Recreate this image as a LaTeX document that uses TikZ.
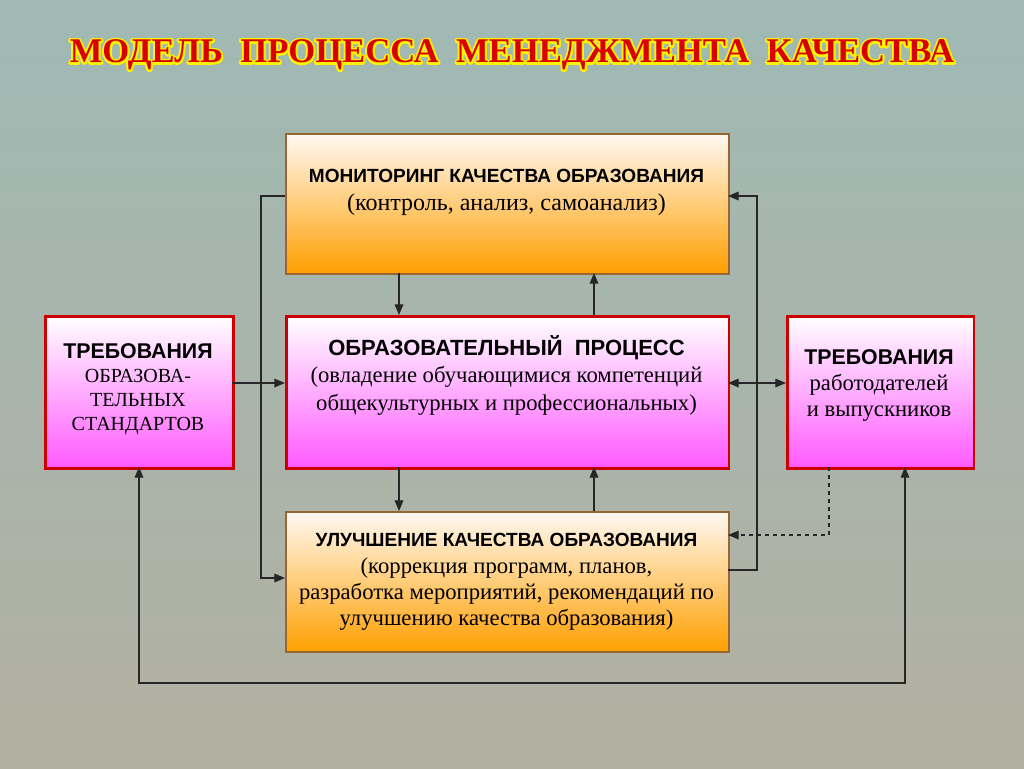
\documentclass[tikz,border=0pt]{standalone}
\usepackage{fontspec}
\setmainfont{Liberation Serif}
\newfontfamily\hsans{Liberation Sans}
\usetikzlibrary{arrows.meta}
\begin{document}
\begin{tikzpicture}[x=0.75pt,y=-0.75pt,
 obox/.style={draw=brown!80!black,line width=1.5pt,top color=orange!5!white,bottom color=orange!75!yellow,align=center,anchor=north west,inner sep=0},
 pbox/.style={draw=red!80!black,line width=2pt,top color=white,bottom color=magenta!65,align=center,anchor=north west,inner sep=0},
 ln/.style={line width=0.9pt,black!85},
 arr/.style={ln,-{Triangle[length=8pt,width=6.5pt]}},
 dbl/.style={ln,{Triangle[length=8pt,width=6.5pt]}-{Triangle[length=8pt,width=6.5pt]}},
 hd/.style={font=\hsans\bfseries\fontsize{14.3pt}{16pt}\selectfont},
 tx/.style={font=\fontsize{17pt}{19.5pt}\selectfont,align=center},
 ttl/.style={font=\bfseries\fontsize{26pt}{30pt}\selectfont}]
\shade[top color={rgb,255:red,160;green,185;blue,180},bottom color={rgb,255:red,178;green,176;blue,160}] (0,0) rectangle (1024,768);
\useasboundingbox (0,0) rectangle (1024,768);
\node[ttl,text=yellow] (titlebg) at (512,55) {\special{pdf:code q 1 Tr 3 w 1 0.95 0 RG 1 J 1 j}МОДЕЛЬ\ \ ПРОЦЕССА\ \ МЕНЕДЖМЕНТА\ \ КАЧЕСТВА\special{pdf:code Q}};
\node[ttl,text=red!85!black] (title) at (512,55) {МОДЕЛЬ\ \ ПРОЦЕССА\ \ МЕНЕДЖМЕНТА\ \ КАЧЕСТВА};

\node[obox,minimum width=332pt,minimum height=105pt] (top) at (285,133) {};
\node[hd] (tophd) at (506.5,176) {МОНИТОРИНГ КАЧЕСТВА ОБРАЗОВАНИЯ};
\node[tx,font=\fontsize{18pt}{20pt}\selectfont] (toptx) at (506.5,205) {(контроль, анализ, самоанализ)};

\node[pbox,minimum width=332pt,minimum height=114pt] (mid) at (285,315) {};
\node[hd,font=\hsans\bfseries\fontsize{16.5pt}{18pt}\selectfont] (midhd) at (506.5,348) {ОБРАЗОВАТЕЛЬНЫЙ\ \ ПРОЦЕСС};
\node[tx,font=\fontsize{17pt}{21pt}\selectfont] (midtx) at (506.5,391) {(овладение обучающимися компетенций\\общекультурных и профессиональных)};

\node[pbox,minimum width=141pt,minimum height=114pt] (left) at (44,315) {};
\node[tx,font=\fontsize{15pt}{18pt}\selectfont] (lefttx) at (138,389) {{\hsans\bfseries\fontsize{16pt}{16pt}\selectfont ТРЕБОВАНИЯ}\\ОБРАЗОВА-\\ТЕЛЬНЫХ\\СТАНДАРТОВ};

\node[pbox,minimum width=140pt,minimum height=114pt] (right) at (786,315) {};
\node[tx,font=\fontsize{17pt}{19.5pt}\selectfont] (righttx) at (879,385) {{\hsans\bfseries\fontsize{16pt}{16pt}\selectfont ТРЕБОВАНИЯ}\\работодателей\\и выпускников};

\node[obox,minimum width=332pt,minimum height=105pt] (bot) at (285,511) {};
\node[hd] (bothd) at (506.5,540) {УЛУЧШЕНИЕ КАЧЕСТВА ОБРАЗОВАНИЯ};
\node[tx] (bottx) at (506.5,594) {(коррекция программ, планов,\\разработка мероприятий, рекомендаций по\\улучшению качества образования)};

\draw[arr] (399,273) -- (399,315);
\draw[arr] (594,315) -- (594,273);
\draw[arr] (399,467) -- (399,511);
\draw[arr] (594,511) -- (594,467);
\draw[arr] (232,383) -- (285,383);
\draw[dbl] (728,383) -- (786,383);
\draw[arr] (285,196) -- (261,196) -- (261,578) -- (285,578);
\draw[arr] (728,570) -- (757,570) -- (757,196) -- (728,196);
\draw[arr,dashed] (829,467) -- (829,535) -- (728,535);
\draw[dbl] (139,467) -- (139,683) -- (905,683) -- (905,467);
\end{tikzpicture}
\end{document}
